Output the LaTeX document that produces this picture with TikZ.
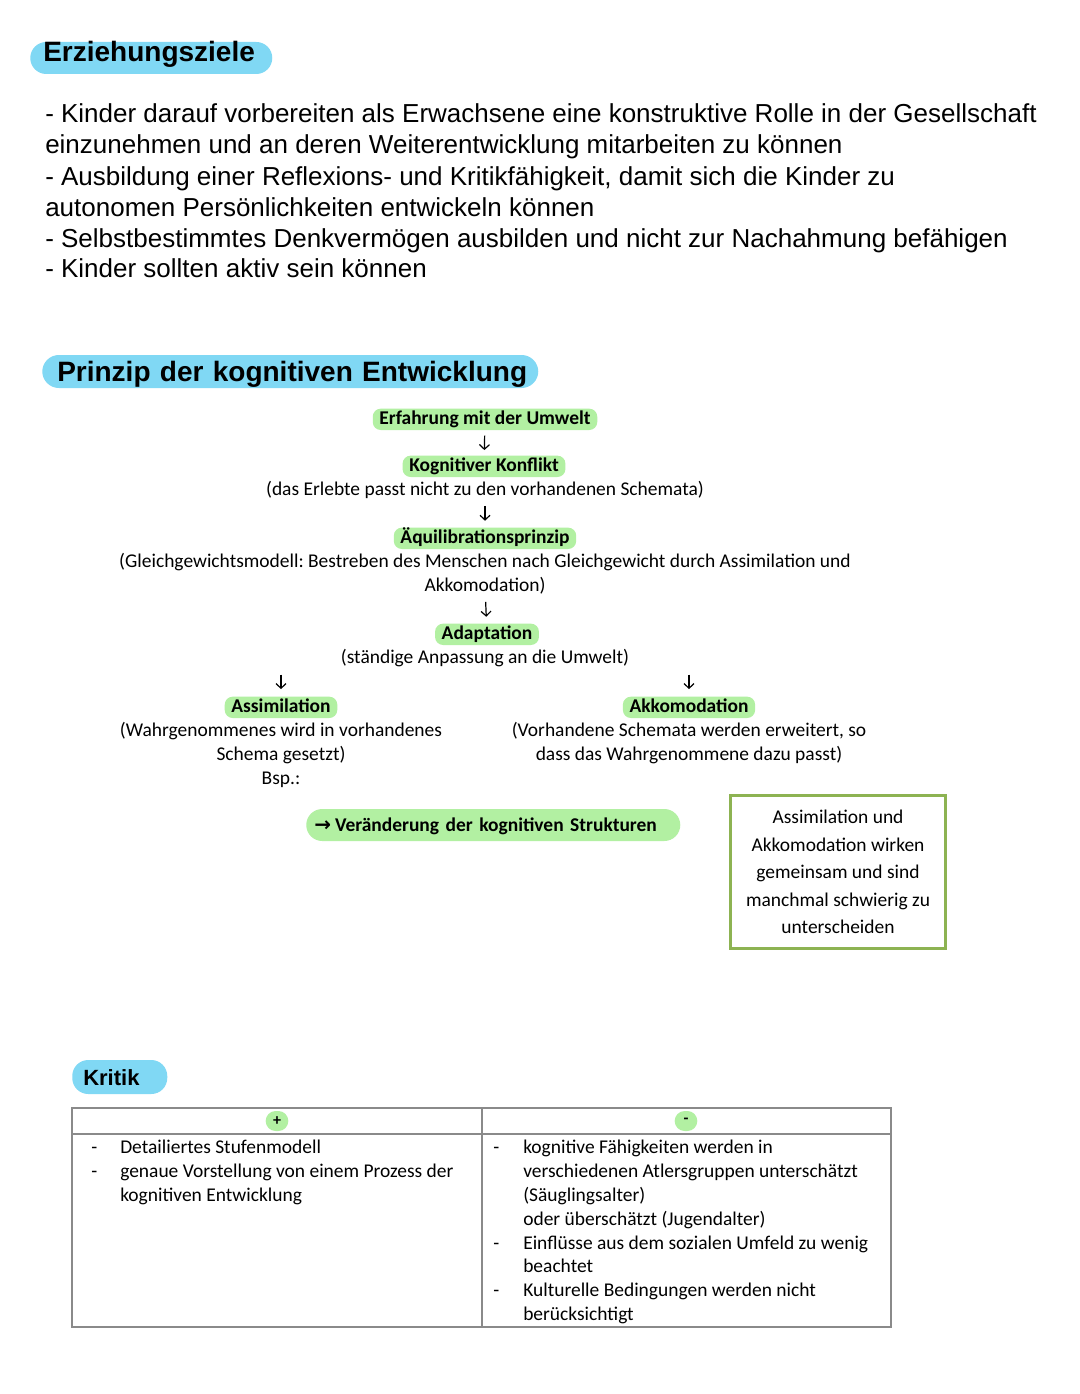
\documentclass[tikz,border=0pt]{standalone}
\usepackage{fontspec}
\setmainfont{Carlito}
\newfontfamily\arialf{Liberation Sans}
\newfontfamily\symf{DejaVu Sans}
\usetikzlibrary{arrows.meta}
\definecolor{pillblue}{HTML}{80D8F4}
\definecolor{hlgreen}{HTML}{B2F0A2}
\definecolor{boxgreen}{HTML}{8DB352}
\definecolor{tabgray}{HTML}{8A8A8A}
\frenchspacing
\begin{document}
\frenchspacing
\begin{tikzpicture}[x=0.75pt,y=-0.75pt,
  body/.style={anchor=base west,inner sep=0,font=\arialf\fontsize{19.5}{23}\selectfont},
  pill/.style={anchor=base west,fill=pillblue,align=left,inner ysep=0,font=\arialf\bfseries\fontsize{21}{25}\selectfont},
  txt/.style={anchor=base,inner sep=0,text height=10pt,text depth=3pt,font=\fontsize{14.6}{18}\selectfont},
  hl/.style={txt,fill=hlgreen,inner xsep=5pt,inner ysep=1.5pt,rounded corners=6pt,font=\bfseries\fontsize{14.6}{18}\selectfont},
  arr/.style={-{Straight Barb[length=3.5pt,width=7.5pt]},line width=0.9pt,shorten <=5pt,shorten >=5pt},
  cell/.style={anchor=base west,inner sep=0,font=\fontsize{14.6}{18}\selectfont},
  tabline/.style={draw=tabgray,line width=1.5pt},
  sign/.style={fill=hlgreen,rounded corners=7.5pt,minimum width=17pt,minimum height=15pt,inner sep=0,font=\bfseries\fontsize{12}{14}\selectfont},
]
\useasboundingbox[fill=white] (0,0) rectangle (1080,1394);

% ---------- Erziehungsziele ----------
\node[pill,text width=162pt,inner xsep=9.75pt,text height=15pt,text depth=9pt,rounded corners=12pt] (h1) at (30,62) {\mbox{Erziehungsziele}};
\node[body] (g1) at (45,123) {- Kinder darauf vorbereiten als Erwachsene eine konstruktive Rolle in der Gesellschaft};
\node[body] (g2) at (45,154) {einzunehmen und an deren Weiterentwicklung mitarbeiten zu können};
\node[body] (g3) at (45,186) {- Ausbildung einer Reflexions- und Kritikfähigkeit, damit sich die Kinder zu};
\node[body] (g4) at (45,217) {autonomen Persönlichkeiten entwickeln können};
\node[body] (g5) at (45,248) {- Selbstbestimmtes Denkvermögen ausbilden und nicht zur Nachahmung befähigen};
\node[body] (g6) at (45,278) {- Kinder sollten aktiv sein können};

% ---------- Prinzip ----------
\node[pill,text width=349.5pt,inner xsep=11.25pt,text height=19.5pt,text depth=5.25pt,rounded corners=12.5pt] (h2) at (42,381) {\mbox{Prinzip der kognitiven Entwicklung}};

\node[hl] (erf) at (485,424) {Erfahrung mit der Umwelt};
\node[hl] (kog) at (484,471) {Kognitiver Konflikt};
\node[txt] (erl) at (485,495) {(das Erlebte passt nicht zu den vorhandenen Schemata)};
\node[hl] (aeq) at (485,543) {Äquilibrationsprinzip};
\node[txt] (gl1) at (485,567) {(Gleichgewichtsmodell: Bestreben des Menschen nach Gleichgewicht durch Assimilation und};
\node[txt] (gl2) at (485,591) {Akkomodation)};
\node[hl] (ada) at (487,639) {Adaptation};
\node[txt] (anp) at (485,663) {(ständige Anpassung an die Umwelt)};
\node[hl] (ass) at (281,712) {Assimilation};
\node[txt] (as1) at (281,736) {(Wahrgenommenes wird in vorhandenes};
\node[txt] (as2) at (281,760) {Schema gesetzt)};
\node[txt] (bsp) at (281,784) {Bsp.:};
\node[hl] (akk) at (689,712) {Akkomodation};
\node[txt] (ak1) at (689,736) {(Vorhandene Schemata werden erweitert, so};
\node[txt] (ak2) at (689,760) {dass das Wahrgenommene dazu passt)};

\draw[arr,shorten <=4pt,shorten >=4pt] (erf) -- (kog);
\draw[arr] (erl) -- (aeq);
\draw[arr] (gl2) -- (ada);
\draw[arr,shorten <=5.5pt,shorten >=5.5pt] (ass.north |- anp.south) -- (ass.north);
\draw[arr,shorten <=5.5pt,shorten >=5.5pt] (akk.north |- anp.south) -- (akk.north);

\node[anchor=base west,fill=hlgreen,align=left,text width=268.5pt,inner xsep=6pt,inner ysep=0,text height=16.5pt,text depth=7.5pt,rounded corners=12pt,font=\bfseries\fontsize{14.6}{18}\selectfont] (ver) at (306,831) {\mbox{{\symf\bfseries\fontsize{15}{16}\selectfont →}\hspace{3pt}Veränderung der kognitiven Strukturen}};

\node[draw=boxgreen,line width=2.25pt,minimum width=161.25pt,minimum height=114.75pt,align=center,inner sep=0,font=\fontsize{14.6}{20.6}\selectfont] (note) at (838,872) {Assimilation und\\Akkomodation wirken\\gemeinsam und sind\\manchmal schwierig zu\\unterscheiden};

% ---------- Kritik ----------
\node[pill,text width=54.75pt,inner xsep=8.25pt,text height=18.75pt,text depth=6.75pt,rounded corners=12pt,font=\arialf\bfseries\fontsize{16.5}{20}\selectfont] (h3) at (72,1085) {\mbox{Kritik}};

\node[tabline,minimum width=614.25pt,minimum height=164.25pt,inner sep=0] (tab) at (481.5,1217.5) {};
\coordinate (hrow) at (72,1134);
\coordinate (dv) at (482,1108);
\draw[tabline] (tab.west |- hrow) -- (tab.east |- hrow);
\draw[tabline] (tab.north -| dv) -- (tab.south -| dv);

\node[sign] (plus) at (277,1121) {+};
\node[sign] (minus) at (686,1121) {-};

\node[cell] (ld1) at (91,1153) {-};
\node[cell] (ld2) at (91,1177) {-};
\node[cell] (l1) at (120,1153) {Detailiertes Stufenmodell};
\node[cell] (l2) at (120,1177) {genaue Vorstellung von einem Prozess der};
\node[cell] (l3) at (120,1201) {kognitiven Entwicklung};

\node[cell] (rd1) at (493,1153) {-};
\node[cell] (rd2) at (493,1249) {-};
\node[cell] (rd3) at (493,1296) {-};
\node[cell] (r1) at (523,1153) {kognitive Fähigkeiten werden in};
\node[cell] (r2) at (523,1177) {verschiedenen Atlersgruppen unterschätzt};
\node[cell] (r3) at (523,1201) {(Säuglingsalter)};
\node[cell] (r4) at (523,1225) {oder überschätzt (Jugendalter)};
\node[cell] (r5) at (523,1249) {Einflüsse aus dem sozialen Umfeld zu wenig};
\node[cell] (r6) at (523,1272) {beachtet};
\node[cell] (r7) at (523,1296) {Kulturelle Bedingungen werden nicht};
\node[cell] (r8) at (523,1320) {berücksichtigt};
\end{tikzpicture}
\end{document}
